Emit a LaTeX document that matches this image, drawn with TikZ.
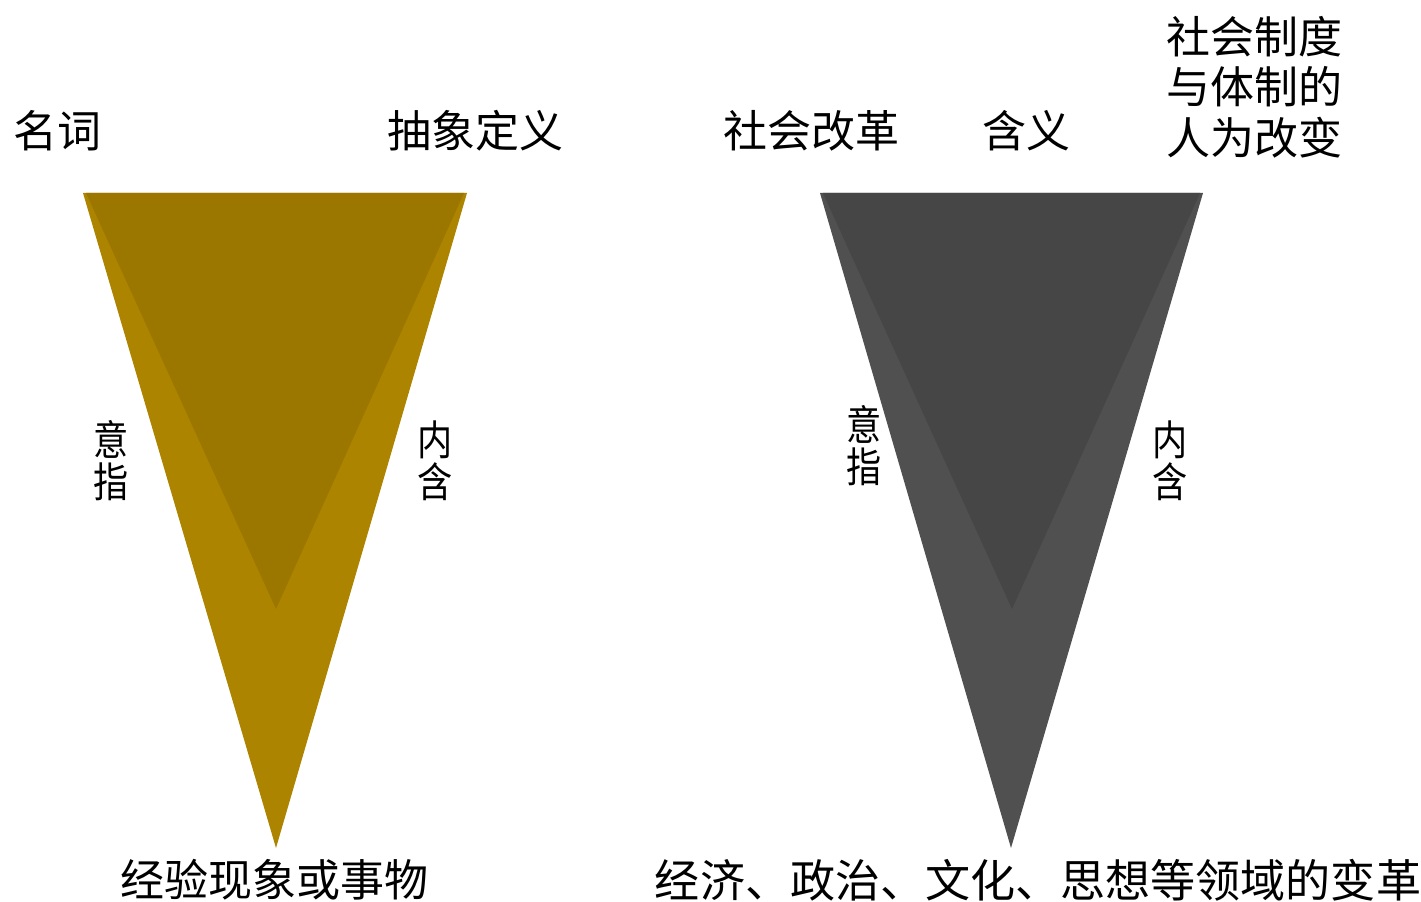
\documentclass[tikz,border=0pt]{standalone}
\usepackage{fontspec}
\setmainfont{Noto Sans CJK SC}
\definecolor{goldout}{HTML}{AD8400}
\definecolor{goldin}{HTML}{9C7700}
\definecolor{grayout}{HTML}{505050}
\definecolor{grayin}{HTML}{464646}
\tikzset{
  lbl/.style={font=\fontsize{33}{38}\selectfont, inner sep=0pt, align=center, text=black},
  vlbl/.style={font=\fontsize{31}{31.5}\selectfont, inner sep=0pt, align=center, xscale=0.85, text=black},
}
\begin{document}
\begin{tikzpicture}[x=0.75pt,y=-0.75pt]
\useasboundingbox (0,0) rectangle (1421,902);
% left funnel
\fill[goldout] (83,193) -- (467,193) -- (276,848) -- cycle;
\fill[goldin] (86,193) -- (464,193) -- (276,609) -- cycle;
% right funnel
\fill[grayout] (820,193) -- (1203,193) -- (1011,848) -- cycle;
\fill[grayin] (823,193) -- (1200,193) -- (1012,609) -- cycle;
% labels left
\node[lbl] (mc) at (57,131) {名词};
\node[lbl] (cx) at (475,131) {抽象定义};
\node[vlbl] (yz1) at (111,461) {意\\指};
\node[vlbl] (nh1) at (435,461) {内\\含};
\node[lbl] (jy) at (274,880) {经验现象或事物};
% labels right
\node[lbl] (shgg) at (811,131) {社会改革};
\node[lbl] (hy) at (1026,131) {含义};
\node[lbl] (shzd) at (1254,87) {社会制度\\与体制的\\人为改变};
\node[vlbl] (yz2) at (864,446) {意\\指};
\node[vlbl] (nh2) at (1170,461) {内\\含};
\node[lbl, font=\fontsize{33.8}{38}\selectfont] (jj) at (1038,880) {经济、政治、文化、思想等领域的变革};
\end{tikzpicture}
\end{document}
